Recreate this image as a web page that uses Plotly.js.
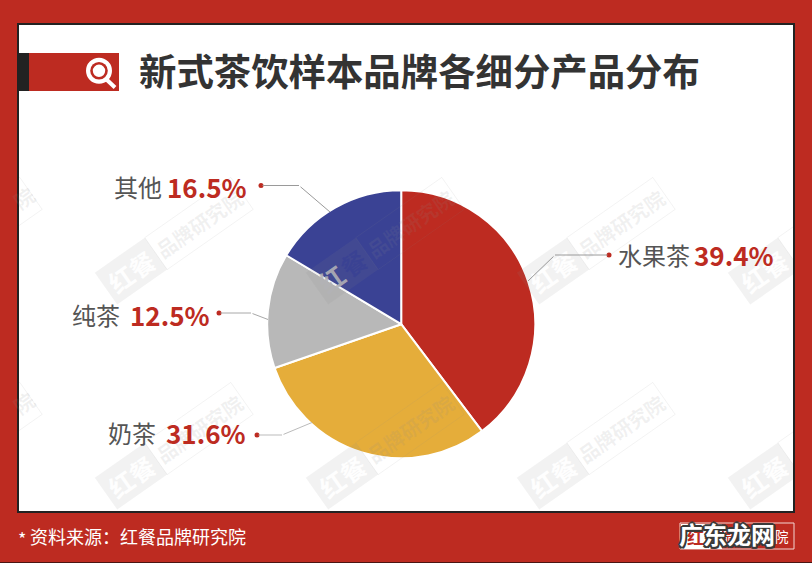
<!DOCTYPE html>
<html><head><meta charset="utf-8">
<script src="https://cdn.plot.ly/plotly-3.0.1.min.js"></script>
<style>html,body{margin:0;padding:0;background:#fff}#c{width:812px;height:563px}</style>
</head><body><div id="c"></div>
<script>
const categories = ['水果茶','奶茶','纯茶','其他'];
const printedLabels = ['39.4%','31.6%','12.5%','16.5%'];
const drawnShares = [39.7,30.0,13.9,16.4];
const sliceColors = ['#bd2b21','#e5ad3a','#b8b8b8','#3a4294'];
const titleText = '新式茶饮样本品牌各细分产品分布';
const sourceText = '资料来源：红餐品牌研究院';

const W=812,H=563,FONT='"Noto Sans CJK SC","Noto Sans",sans-serif';
const RED='#bd2b21',INK='#222222';
const px=x=>x/W, py=y=>1-y/H;
const rect=(x0,y0,x1,y1,fill,line)=>({type:'rect',xref:'paper',yref:'paper',x0:px(x0),x1:px(x1),y0:py(y0),y1:py(y1),fillcolor:fill,line:line||{width:0},layer:'above'});
const circle=(cx,cy,r,fill)=>({type:'circle',xref:'paper',yref:'paper',x0:px(cx-r),x1:px(cx+r),y0:py(cy-r),y1:py(cy+r),fillcolor:fill,line:{width:0},layer:'above'});
const poly=(pts,close,fill,line)=>({type:'path',xref:'paper',yref:'paper',path:pts.map((p,i)=>(i?'L':'M')+px(p[0])+','+py(p[1])).join(' ')+(close?' Z':''),fillcolor:fill||'rgba(0,0,0,0)',line:line||{width:0},layer:'above'});
const note=(text,x,y,size,color,opt)=>Object.assign({text,xref:'paper',yref:'paper',x:px(x),y:py(y),xanchor:'left',yanchor:'middle',showarrow:false,font:{family:FONT,size,color}},opt||{});
const heavy=(size,color)=>({family:FONT,size,weight:700,color});

const shapes=[],annotations=[];
/* watermarks */
const A=-35*Math.PI/180,ca=Math.cos(A),sa=Math.sin(A);
const WM='rgba(140,140,140,0.11)',WML='rgba(140,140,140,0.10)',WMT='rgba(140,140,140,0.12)',WHT='rgba(255,255,255,0.95)';
const marks=[[-37,241,'left'],[174,241,'all'],[385,241,'blue'],[596,241,'all'],[807,241,'right'],
             [-37,446,'left'],[174,446,'all'],[385,446,'all'],[596,446,'all'],[807,446,'right']];
const rot=(cx,cy,u,v)=>[cx+u*ca-v*sa,cy+u*sa+v*ca];
marks.forEach(([cx,cy,kind])=>{
  const L=83,T=19.5,S=-22;
  shapes.push(poly([rot(cx,cy,-L,-T),rot(cx,cy,S,-T),rot(cx,cy,S,T),rot(cx,cy,-L,T)],true,WM));
  shapes.push(poly([rot(cx,cy,S,-T),rot(cx,cy,L,-T),rot(cx,cy,L,T),rot(cx,cy,S,T)],true,'rgba(0,0,0,0)',{color:WML,width:1}));
  if(kind==='blue'){
    const a=rot(cx,cy,-65,0),b=rot(cx,cy,-39,0);
    annotations.push(note('红',a[0],a[1],25,'',{xanchor:'center',textangle:-35,font:heavy(25,'rgba(178,178,182,0.9)')}));
    annotations.push(note('餐',b[0],b[1],25,'',{xanchor:'center',textangle:-35,font:heavy(25,'rgba(58,66,148,0.92)')}));
  } else if(kind!=='left'){
    const p=rot(cx,cy,-52,0);
    annotations.push(note('红餐',p[0],p[1],25,'',{xanchor:'center',textangle:-35,font:heavy(25,WHT)}));
  }
  if(kind==='all'||kind==='blue'){
    const p=rot(cx,cy,31,0);
    annotations.push(note('品牌研究院',p[0],p[1],20,'',{xanchor:'center',textangle:-35,font:heavy(20,WMT)}));
  }
  if(kind==='left'){
    const p=rot(cx,cy,75,0);
    annotations.push(note('院',p[0],p[1],20,'',{xanchor:'center',textangle:-35,font:heavy(20,WMT)}));
  }
});
/* frame */
shapes.push(rect(0,0,W,24,RED),rect(0,512,W,H,RED),rect(0,0,18,H,RED),rect(794,0,W,H,RED));
shapes.push(rect(18,24,794,512,'rgba(0,0,0,0)',{color:INK,width:2}));
shapes.push(rect(0,562,W,563,'#4a1512'));
/* title tab + magnifier */
shapes.push(rect(18,53,29,91,INK),rect(29,53,119,91,RED));
shapes.push(poly([[106,79],[115,87.5]],false,null,{color:'#fff',width:4}));
shapes.push(circle(99,70.8,13,'#fff'),circle(99,70.8,8.8,RED),circle(99,70.8,6.2,'#fff'));
/* leaders: arrows without heads, so they sit above the watermark texts */
const leaders=[
  {pts:[[609,255],[555,255],[528,281]],c:'#9a9a9a'},
  {pts:[[261,185.5],[299,185.5],[330,212]],c:'#9a9a9a'},
  {pts:[[219,313],[251,313],[268,319.5]],c:'#a8a8a8'},
  {pts:[[257,435],[282,435],[312,422.5]],c:'#bbbbbb'}];
leaders.forEach(l=>{
  for(let i=0;i<2;i++){
    const p=l.pts[i],q=l.pts[i+1];
    annotations.push({text:'',xref:'paper',yref:'paper',x:px(q[0]),y:py(q[1]),ax:p[0]-q[0],ay:p[1]-q[1],showarrow:true,arrowhead:0,arrowwidth:1,arrowcolor:l.c,standoff:0,startstandoff:0});
  }
  shapes.push(circle(l.pts[0][0],l.pts[0][1],2.5,RED));
});
/* labels */
const labelPos=[[615.5,692,254],[111.5,165,186],[69.5,128,314],[105.5,164,432]];
const order=[0,3,2,1];
order.forEach((k,i)=>{const [a,b,y]=labelPos[i];
  annotations.push(note(categories[k],a,y,24,'#555555'));
  annotations.push(note(printedLabels[k],b,y,26,RED,{font:heavy(26,RED)}));
});
annotations.push(note(titleText,137,70,37.4,'#333333',{font:heavy(37.4,'#333333')}));
annotations.push(note('*',16,538,18,'#ffffff'));
annotations.push(note(sourceText,28,535.5,18,'#ffffff'));
/* bottom-right badge */
shapes.push(rect(680,523,794,549,'rgba(0,0,0,0)',{color:'#f3d6d3',width:1}));
shapes.push(rect(681,524,722,549,'#ffffff'));
annotations.push(note('红餐',685,536,17,RED,{font:heavy(17,RED)}));
annotations.push(note('品牌研究院',791,536,13.5,'#ffffff',{xanchor:'right'}));
const outline=['-2px 0 #3a3a3a','2px 0 #3a3a3a','0 -2px #3a3a3a','0 2px #3a3a3a','-1.5px -1.5px #3a3a3a','1.5px -1.5px #3a3a3a','-1.5px 1.5px #3a3a3a','1.5px 1.5px #3a3a3a'].join(',');
annotations.push(note('广东龙网',677,533,24,'#ffffff',{font:{family:FONT,size:24,weight:700,color:'#ffffff',shadow:outline}}));

const cx=401.2,cy=324.2,r=134;
Plotly.newPlot('c',[{
  type:'pie',labels:categories,values:drawnShares,sort:false,direction:'clockwise',rotation:0,
  marker:{colors:sliceColors,line:{color:'#ffffff',width:2}},textinfo:'none',hoverinfo:'skip',showlegend:false,
  domain:{x:[px(cx-r),px(cx+r)],y:[py(cy+r),py(cy-r)]}
}],{width:W,height:H,margin:{l:0,r:0,t:0,b:0},paper_bgcolor:'#ffffff',plot_bgcolor:'#ffffff',showlegend:false,shapes,annotations},{displayModeBar:false,staticPlot:true});
</script></body></html>
